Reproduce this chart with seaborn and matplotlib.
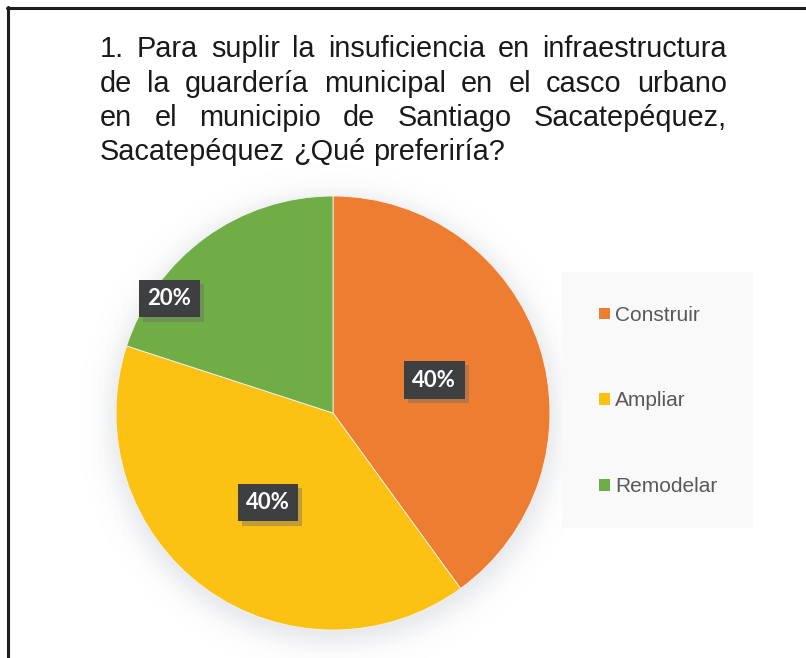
import numpy as np
import matplotlib
matplotlib.use("Agg")
import matplotlib.pyplot as plt
import seaborn as sns
from matplotlib import patheffects as pe
from matplotlib.patches import Rectangle, Patch
from matplotlib.lines import Line2D
from matplotlib.font_manager import findfont, FontProperties

# ---- data -------------------------------------------------------------
categories = ["Construir", "Ampliar", "Remodelar"]
shares = [40, 40, 20]
colors = ["#ED7D31", "#FBC113", "#70AD47"]
title_lines = [
    "1. Para suplir la insuficiencia en infraestructura",
    "de la guardería municipal en el casco urbano",
    "en el municipio de Santiago Sacatepéquez,",
    "Sacatepéquez ¿Qué preferiría?",
]

# ---- canvas (pixel-like data coordinates, y pointing up) ----------------
W, H = 806, 658
sns.set_theme(style="white")
plt.rcParams["font.family"] = ["Liberation Sans", "DejaVu Sans"]


def Y(y):
    return H - y


def pick_font(names):
    for n in names:
        try:
            findfont(FontProperties(family=n), fallback_to_default=False)
            return n
        except Exception:
            continue
    return "DejaVu Sans"


title_font = pick_font(["Liberation Sans Narrow", "Liberation Sans"])
label_font = pick_font(["Lato", "Open Sans", "DejaVu Sans"])

fig = plt.figure(figsize=(W / 100, H / 100), dpi=100)
ax = fig.add_axes([0, 0, 1, 1])

# ---- pie ----------------------------------------------------------------
cx, cy, R = 333, 413, 217

# soft drop shadow beneath the pie
gx, gy = np.meshgrid(np.arange(cx - 300, cx + 300), np.arange(cy - 300, cy + 300))
d = np.hypot(gx - cx, gy - (cy + 6))
alpha = 0.28 / (1 + np.exp((d - R - 7) / 7.5))
shadow = np.zeros(d.shape + (4,))
shadow[..., 0] = 0.62
shadow[..., 1] = 0.65
shadow[..., 2] = 0.70
shadow[..., 3] = alpha
ax.imshow(shadow, extent=(cx - 300, cx + 300, Y(cy + 300), Y(cy - 300)),
          origin="upper", zorder=0, interpolation="bilinear")

wedges, _ = ax.pie(
    shares, colors=colors, startangle=90, counterclock=False,
    center=(cx, Y(cy)), radius=R, frame=True,
    wedgeprops=dict(linewidth=0.6, edgecolor="#f4f4f4"),
)
for w in wedges:
    w.set_zorder(2)

# percentage labels in dark boxes
label_dist = [0.49, 0.51, 0.92]
label_turn = [0, 0, 19]
for w, v, dist, turn in zip(wedges, shares, label_dist, label_turn):
    ang = np.deg2rad((w.theta1 + w.theta2) / 2 + turn)
    x = cx + dist * R * np.cos(ang)
    y = Y(cy) + dist * R * np.sin(ang)
    t = ax.text(x, y, f"{v}%", ha="center", va="center", color="white",
                fontsize=16, fontweight="bold", family=label_font, zorder=5,
                bbox=dict(boxstyle="square,pad=0.38", fc="#3E3F41", ec="none"))
    t.get_bbox_patch().set_path_effects([
        pe.SimplePatchShadow(offset=(3, -3), shadow_rgbFace="#6a6a6a", alpha=0.4),
        pe.Normal(),
    ])

# ---- legend -----------------------------------------------------------------
ax.add_patch(Rectangle((562, Y(528)), 191, 256, fc="#F9F9F9", ec="none", zorder=1))
handles = [Patch(facecolor=c, edgecolor="none") for c in colors]
leg = ax.legend(handles, categories, loc="center left",
                bbox_to_anchor=(589, Y(401)), bbox_transform=ax.transData,
                frameon=False, fontsize=15, handlelength=0.5, handleheight=0.5,
                handletextpad=0.25, labelspacing=3.2, borderpad=0)
for txt in leg.get_texts():
    txt.set_color("#595959")

# ---- justified title ----------------------------------------------------------
fig.canvas.draw()
renderer = fig.canvas.get_renderer()
left, right = 100, 727
last_width = 404
baselines = [57, 92, 126, 160]


def text_width(s, size):
    t = ax.text(0, 0, s, fontsize=size, family=title_font)
    wd = t.get_window_extent(renderer).width
    t.remove()
    return wd


base = 20
size = base * last_width / text_width(title_lines[-1], base)
space_w = text_width("a a", size) - text_width("aa", size)

for i, (line, yb) in enumerate(zip(title_lines, baselines)):
    words = line.split(" ")
    widths = [text_width(wd, size) for wd in words]
    if i < len(title_lines) - 1 and len(words) > 1:
        gap = (right - left - sum(widths)) / (len(words) - 1)
    else:
        gap = space_w
    x = left
    for wd, ww in zip(words, widths):
        ax.text(x, Y(yb), wd, fontsize=size, family=title_font, color="#1a1a1a",
                ha="left", va="baseline", zorder=6)
        x += ww + gap

# ---- frame edges ----------------------------------------------------------------
ax.add_line(Line2D([7, W], [Y(8), Y(8)], color="#1e1e1e", lw=2.2, zorder=7))
ax.add_line(Line2D([7.5, 7.5], [Y(7), 0], color="#1e1e1e", lw=2.2, zorder=7))

ax.set_xlim(0, W)
ax.set_ylim(0, H)
ax.set_axis_off()

fig.savefig("out.png", dpi=100, facecolor="white")
